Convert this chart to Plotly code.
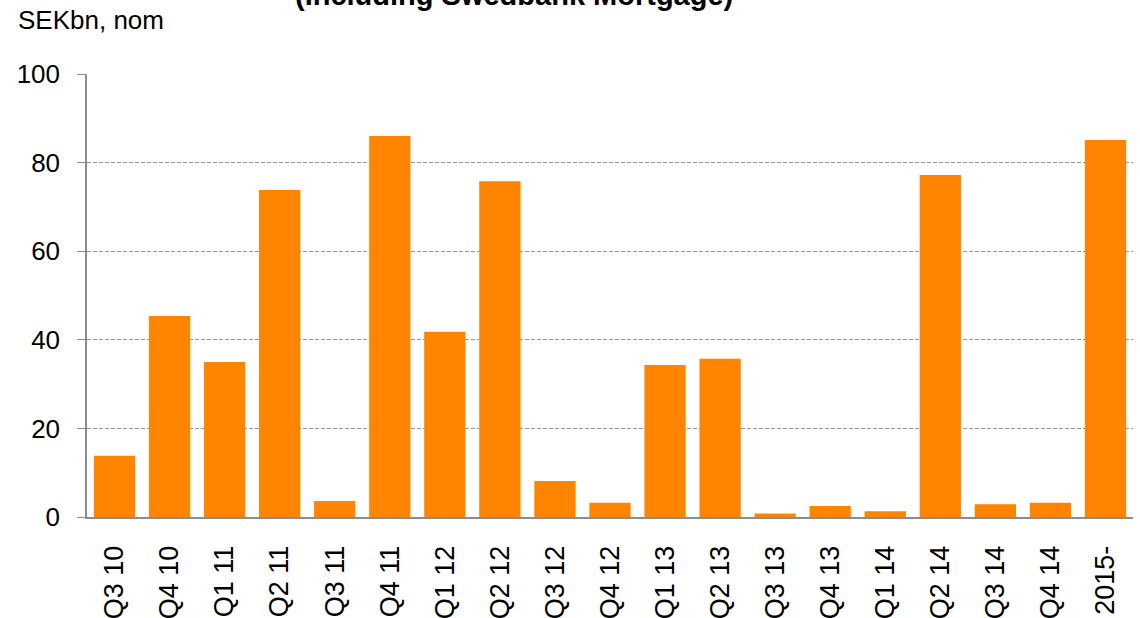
import plotly.graph_objects as go

categories = ["Q3 10", "Q4 10", "Q1 11", "Q2 11", "Q3 11", "Q4 11", "Q1 12", "Q2 12",
              "Q3 12", "Q4 12", "Q1 13", "Q2 13", "Q3 13", "Q4 13", "Q1 14", "Q2 14",
              "Q3 14", "Q4 14", "2015-"]
values = [13.8, 45.4, 35.0, 73.8, 3.6, 86.0, 41.8, 75.8, 8.1, 3.2, 34.3, 35.7,
          0.8, 2.5, 1.3, 77.2, 2.9, 3.2, 85.1]
y_ticks = [0, 20, 40, 60, 80, 100]

FONT = "Arial, 'Liberation Sans', sans-serif"

fig = go.Figure(go.Bar(
    x=categories, y=values,
    marker=dict(color="#FF8500", line=dict(width=0)),
))

fig.update_layout(
    width=1140, height=618,
    margin=dict(l=87, r=7, t=74, b=101, autoexpand=False),
    paper_bgcolor="white", plot_bgcolor="white",
    bargap=0.25,
    showlegend=False,
    font=dict(family=FONT, color="black"),
    xaxis=dict(
        type="category",
        automargin=False,
        tickangle=-90,
        tickfont=dict(size=27, family=FONT, color="black"),
        ticks="outside", ticklen=16, tickcolor="rgba(0,0,0,0)",
        showline=True, linecolor="#8c8c8c", linewidth=2,
        showgrid=False,
    ),
    yaxis=dict(
        range=[0, 100],
        automargin=False,
        tickvals=y_ticks,
        tickfont=dict(size=26, family=FONT, color="black"),
        ticks="outside", ticklen=8, tickcolor="#8c8c8c", tickwidth=1,
        ticklabelstandoff=12,
        showline=True, linecolor="#8c8c8c", linewidth=1.5,
        showgrid=True, gridcolor="#999999", gridwidth=1, griddash="4px,2px",
        zeroline=False,
    ),
    annotations=[
        dict(text="SEKbn, nom", xref="paper", yref="paper", x=0, y=1,
             xanchor="left", yanchor="bottom", xshift=-71, yshift=37,
             showarrow=False, font=dict(size=26, family=FONT, color="black")),
        dict(text="<b>(Including Swedbank Mortgage)</b>", xref="paper", yref="paper",
             x=0, y=1, xanchor="center", yanchor="bottom", xshift=427, yshift=61,
             showarrow=False, font=dict(size=29, family=FONT, color="black")),
    ],
)

fig.write_html("out.html", config={"displayModeBar": False},
               post_script="document.body.style.margin='0';")
